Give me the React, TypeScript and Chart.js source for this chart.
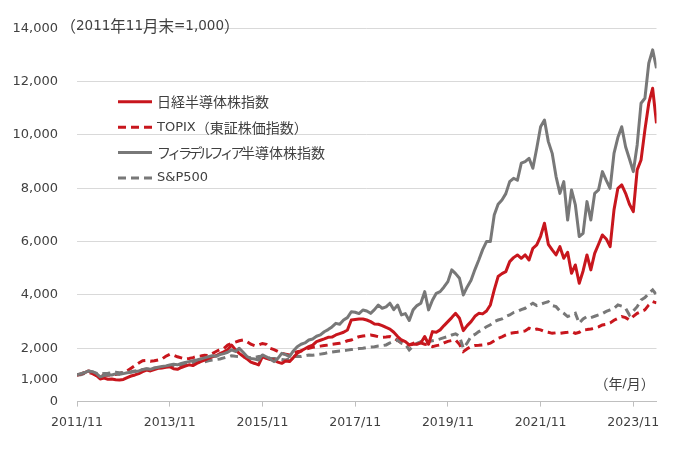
import React, { useEffect, useRef } from 'react';
import { Chart, registerables } from 'chart.js';

Chart.register(...registerables);

// Monthly index values, 2011/11 = 1,000 (month index 0 = 2011/11)
const nikkeiSemi = [
  1000,1040,1090,1150,1080,980,850,880,840,850,
  820,810,830,900,960,1000,1050,1120,1180,1150,
  1200,1250,1260,1290,1310,1230,1210,1280,1330,1380,
  1350,1430,1500,1560,1620,1680,1720,1800,1870,1950,
  2120,1950,1810,1700,1600,1480,1430,1375,1690,1620,
  1580,1560,1480,1435,1520,1500,1650,1810,1900,1980,
  2060,2120,2250,2300,2350,2410,2420,2500,2550,2600,
  2685,3060,3080,3100,3100,3060,3000,2910,2900,2850,
  2780,2720,2600,2440,2310,2250,2125,2150,2150,2200,
  2440,2150,2625,2600,2690,2850,3000,3150,3310,3125,
  2660,2850,3000,3200,3310,3290,3400,3625,4190,4690,
  4800,4875,5250,5400,5500,5375,5500,5310,5750,5875,
  6200,6690,5900,5690,5500,5810,5375,5600,4810,5125,
  4440,4900,5500,4940,5560,5900,6250,6100,5810,7190,
  8000,8125,7810,7400,7125,8690,9060,10190,11190,11750,
  10440,
];

const topix = [
  1000,1020,1070,1090,1050,980,960,1000,990,1010,
  1020,1050,1100,1150,1250,1350,1450,1530,1540,1510,
  1530,1560,1600,1700,1770,1740,1680,1640,1600,1620,
  1650,1690,1710,1740,1730,1800,1880,1950,1990,2120,
  2180,2230,2280,2310,2250,2150,2100,2120,2180,2150,
  2000,1950,1880,1810,1780,1750,1800,1870,1900,1950,
  2000,2040,2060,2080,2100,2120,2150,2170,2185,2220,
  2280,2310,2380,2435,2460,2480,2500,2470,2435,2410,
  2420,2440,2380,2290,2200,2150,2125,2180,2250,2200,
  2150,2125,2060,2100,2125,2200,2260,2290,2310,2150,
  1875,1980,2060,2100,2110,2125,2150,2190,2280,2375,
  2430,2500,2560,2580,2600,2625,2650,2750,2690,2720,
  2690,2625,2600,2560,2580,2560,2580,2600,2625,2560,
  2600,2690,2700,2720,2750,2800,2875,2900,2950,3050,
  3125,3190,3150,3060,3200,3310,3380,3440,3625,3750,
  3700,
];

const phlxSemi = [
  1000,1050,1090,1150,1120,1060,930,980,1010,1000,
  1040,1020,1050,1080,1100,1130,1150,1200,1230,1210,
  1260,1290,1320,1340,1370,1400,1380,1430,1470,1500,
  1530,1560,1600,1640,1680,1720,1700,1760,1800,1850,
  1940,1880,2000,1850,1690,1620,1600,1560,1750,1680,
  1600,1500,1620,1810,1760,1690,1900,2060,2150,2200,
  2310,2350,2450,2500,2620,2700,2800,2935,2900,3060,
  3150,3370,3350,3300,3435,3400,3310,3450,3620,3500,
  3550,3690,3450,3620,3250,3300,3040,3440,3600,3690,
  4125,3440,3800,4060,4125,4300,4500,4940,4800,4625,
  4000,4300,4550,4950,5310,5700,6000,6000,7000,7400,
  7560,7800,8250,8375,8300,8940,9000,9125,8750,9500,
  10310,10560,9750,9310,8440,7810,8250,6810,7940,7375,
  6190,6310,7500,6810,7810,7940,8625,8300,8000,9310,
  9900,10310,9560,9100,8625,9625,11190,11375,12690,13190,
  12500,
];

const sp500 = [
  1000,1010,1060,1090,1110,1060,1030,1050,1060,1080,
  1100,1085,1080,1100,1120,1150,1170,1200,1220,1210,
  1250,1280,1270,1300,1335,1350,1320,1370,1400,1420,
  1450,1480,1500,1490,1530,1560,1580,1600,1640,1680,
  1720,1700,1690,1680,1660,1640,1650,1690,1700,1660,
  1630,1620,1600,1580,1560,1600,1690,1700,1690,1720,
  1750,1740,1760,1780,1800,1840,1860,1880,1900,1910,
  1930,1950,1970,1990,2000,2030,2050,2060,2085,2100,
  2125,2200,2250,2310,2190,2150,1940,2080,2190,2250,
  2150,2250,2280,2310,2350,2400,2440,2500,2540,2450,
  2000,2200,2440,2520,2625,2700,2810,2880,3000,3060,
  3100,3190,3250,3340,3380,3450,3500,3600,3690,3600,
  3650,3700,3750,3600,3560,3400,3310,3190,3250,3310,
  2940,3100,3190,3150,3200,3250,3300,3380,3440,3500,
  3625,3580,3500,3250,3400,3560,3810,3900,4060,4190,
  4000,
];

const xTickMonths = [0, 24, 48, 72, 96, 120, 144];
const xTickLabels = ['2011/11', '2013/11', '2015/11', '2017/11', '2019/11', '2021/11', '2023/11'];
const yTickValues = [0, 1000, 2000, 4000, 6000, 8000, 10000, 12000, 14000];
const seriesNames = ['日経半導体株指数', 'TOPIX（東証株価指数）', 'フィラデルフィア半導体株指数', 'S&P500'];
const unitNote = '（2011年11月末=1,000）';
const axisNote = '（年/月）';
const baseValue = 1000;

const RED = '#C8161D';
const GRAY = '#787878';
const TEXT = '#404040';
const LATIN = 'DejaVu Sans';
const CJK = '"Noto Sans CJK JP"';

const CJK_RE = /([\u3000-\u30ff\u4e00-\u9fff\uff00-\uffef]+)/;
const KANA_RE = /[\u30a0-\u30ff]/;

function drawMixed(ctx: CanvasRenderingContext2D, text: string, x: number, y: number, latinSize: number, cjkSize: number) {
  const parts = text.split(CJK_RE).filter((p) => p.length > 0);
  let cx = x;
  ctx.textBaseline = 'middle';
  ctx.textAlign = 'left';
  ctx.fillStyle = TEXT;
  for (const part of parts) {
    const isCjk = CJK_RE.test(part);
    if (!isCjk) {
      ctx.font = `${latinSize}px ${LATIN}`;
      ctx.fillText(part, cx, y);
      cx += ctx.measureText(part).width;
    } else {
      const sub = part.split(/([\u30a0-\u30ff]+)/).filter((p) => p.length > 0);
      for (const s of sub) {
        ctx.font = `${cjkSize}px ${CJK}`;
        const kana = KANA_RE.test(s);
        (ctx as any).letterSpacing = kana ? '-3.5px' : '0px';
        ctx.fillText(s, cx, y);
        cx += ctx.measureText(s).width;
        (ctx as any).letterSpacing = '0px';
      }
    }
  }
}

const overlayPlugin = {
  id: 'overlay',
  beforeDraw(chart: any) {
    const ctx = chart.ctx;
    ctx.save();
    ctx.fillStyle = '#ffffff';
    ctx.fillRect(0, 0, chart.width, chart.height);
    ctx.restore();
  },
  afterDraw(chart: any) {
    const ctx: CanvasRenderingContext2D = chart.ctx;
    const area = chart.chartArea;
    const yScale = chart.scales.y;
    ctx.save();
    // "1,000" base label (sits slightly below its value line, as in the original)
    ctx.font = `13px ${LATIN}`;
    ctx.fillStyle = TEXT;
    ctx.textAlign = 'right';
    ctx.textBaseline = 'middle';
    ctx.fillText(baseValue.toLocaleString('en-US'), area.left - 19, yScale.getPixelForValue(baseValue) + 5);
    // unit note above plot
    drawMixed(ctx, unitNote, area.left - 16.5, area.top - 2, 13.5, 15.5);
    // axis note
    drawMixed(ctx, axisNote, area.right - 62, area.bottom - 18, 12.5, 14);
    // legend
    const styles = [
      { color: RED, dash: [] as number[] },
      { color: RED, dash: [8, 5] },
      { color: GRAY, dash: [] as number[] },
      { color: GRAY, dash: [8, 5] },
    ];
    const lx = area.left + 41;
    const ly = area.top + 73.5;
    seriesNames.forEach((name, i) => {
      const y = ly + i * 25.4;
      ctx.beginPath();
      ctx.strokeStyle = styles[i].color;
      ctx.lineWidth = 3;
      ctx.lineCap = 'butt';
      ctx.setLineDash(styles[i].dash);
      ctx.moveTo(lx, y);
      ctx.lineTo(lx + 34, y);
      ctx.stroke();
      ctx.setLineDash([]);
      drawMixed(ctx, name, lx + 39, y, 13, 14);
    });
    ctx.restore();
  },
};

export default function App() {
  const ref = useRef<HTMLCanvasElement | null>(null);
  useEffect(() => {
    if (!ref.current) return;
    const mk = (vals: number[]) => vals.map((v, i) => ({ x: i, y: v }));
    const chart = new Chart(ref.current, {
      type: 'line',
      data: {
        datasets: [
          { label: seriesNames[0], data: mk(nikkeiSemi), borderColor: RED, borderWidth: 3, pointRadius: 0, borderJoinStyle: 'round', order: 1 },
          { label: seriesNames[1], data: mk(topix), borderColor: RED, borderWidth: 3, borderDash: [8, 5], pointRadius: 0, order: 3 },
          { label: seriesNames[2], data: mk(phlxSemi), borderColor: GRAY, borderWidth: 3, pointRadius: 0, borderJoinStyle: 'round', order: 0 },
          { label: seriesNames[3], data: mk(sp500), borderColor: GRAY, borderWidth: 3, borderDash: [8, 5], pointRadius: 0, order: 2 },
        ],
      },
      options: {
        responsive: false,
        maintainAspectRatio: false,
        animation: false,
        layout: { padding: { left: 0, right: 23.5, top: 28.3, bottom: 0 } },
        plugins: { legend: { display: false }, tooltip: { enabled: false } },
        scales: {
          x: {
            type: 'linear',
            min: 0,
            max: 150,
            afterBuildTicks: (s: any) => {
              s.ticks = xTickMonths.map((v) => ({ value: v }));
            },
            afterFit: (s: any) => {
              s.height = 52.4;
            },
            grid: { display: true, drawOnChartArea: false, drawTicks: true, tickLength: 5, color: '#bfbfbf' },
            border: { display: true, color: '#bfbfbf', width: 1 },
            ticks: {
              autoSkip: false,
              maxRotation: 0,
              padding: 9,
              color: TEXT,
              font: { family: LATIN, size: 12.5 },
              callback: (v: any) => {
                const k = xTickMonths.indexOf(Number(v));
                return k >= 0 ? xTickLabels[k] : '';
              },
            },
          },
          y: {
            min: 0,
            max: 14000,
            afterBuildTicks: (s: any) => {
              s.ticks = yTickValues.map((v) => ({ value: v }));
            },
            afterFit: (s: any) => {
              s.width = 77;
            },
            grid: {
              drawTicks: false,
              lineWidth: 1,
              color: (c: any) => (c.tick && (c.tick.value === 0 || c.tick.value === baseValue) ? 'rgba(0,0,0,0)' : '#d9d9d9'),
            },
            border: { display: false },
            ticks: {
              padding: 19,
              color: TEXT,
              font: { family: LATIN, size: 13 },
              callback: (v: any) => (Number(v) === baseValue ? '' : Number(v).toLocaleString('en-US')),
            },
          },
        },
      },
      plugins: [overlayPlugin],
    } as any);
    return () => chart.destroy();
  }, []);
  return (
    <div style={{ position: 'fixed', left: 0, top: 0, width: 680, height: 454, background: '#fff' }}>
      <canvas ref={ref} width={680} height={454} style={{ width: 680, height: 454, display: 'block' }} />
    </div>
  );
}
